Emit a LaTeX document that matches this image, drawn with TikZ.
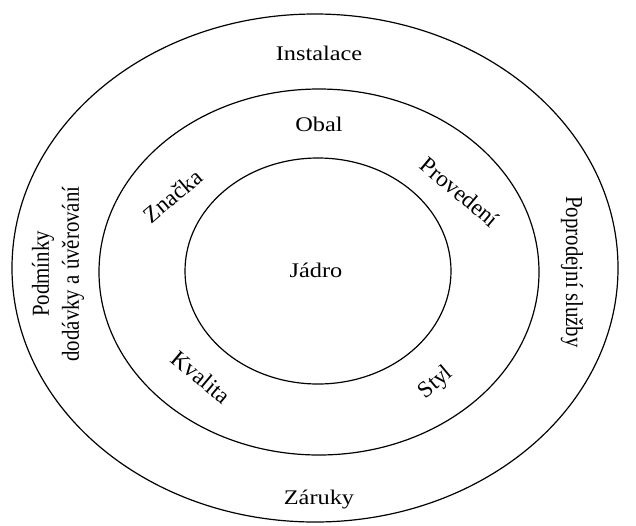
\documentclass[tikz,border=0pt]{standalone}
\usepackage{fontspec}
\setmainfont{Liberation Serif}
\newfontfamily\hfont[FakeStretch=1.17]{Liberation Serif}
\newfontfamily\vfont[FakeStretch=0.855]{Liberation Serif}
\begin{document}
\begin{tikzpicture}[x=0.5pt,y=-0.5pt,
  ring/.style={draw=black, line width=0.6pt},
  hlbl/.style={font=\hfont\fontsize{10.4}{12.8}\selectfont, inner sep=0pt, align=center, text=black},
  vlbl/.style={font=\vfont\fontsize{12.2}{15}\selectfont, inner sep=0pt, align=center, text=black},
  dlbl/.style={font=\fontsize{11.6}{14}\selectfont, inner sep=0pt, align=center, text=black}]
\useasboundingbox (0,0) rectangle (636,525);
\draw[ring] (315,268) ellipse [x radius=151.5pt, y radius=127pt];
\draw[ring] (319,272) ellipse [x radius=110pt, y radius=91.5pt];
\draw[ring] (318,271) ellipse [x radius=66.5pt, y radius=56.5pt];
\node[hlbl] (inst) at (319,53) {Instalace};
\node[hlbl] (obal) at (319,124) {Obal};
\node[hlbl] (jadro) at (316,270) {Jádro};
\node[hlbl] (zaruky) at (319,500) {Záruky};
\node[vlbl, rotate=90] (podm) at (58,274) {Podmínky\\dodávky a úvěrování};
\node[vlbl, rotate=-90] (popr) at (572,272) {Poprodejní služby};
\node[dlbl, rotate=40] (znacka) at (173,196) {Značka};
\node[dlbl, rotate=-40] (proved) at (460,192) {Provedení};
\node[dlbl, rotate=-40] (kval) at (201,377) {Kvalita};
\node[dlbl, rotate=40] (styl) at (436,383) {Styl};
\end{tikzpicture}
\end{document}
